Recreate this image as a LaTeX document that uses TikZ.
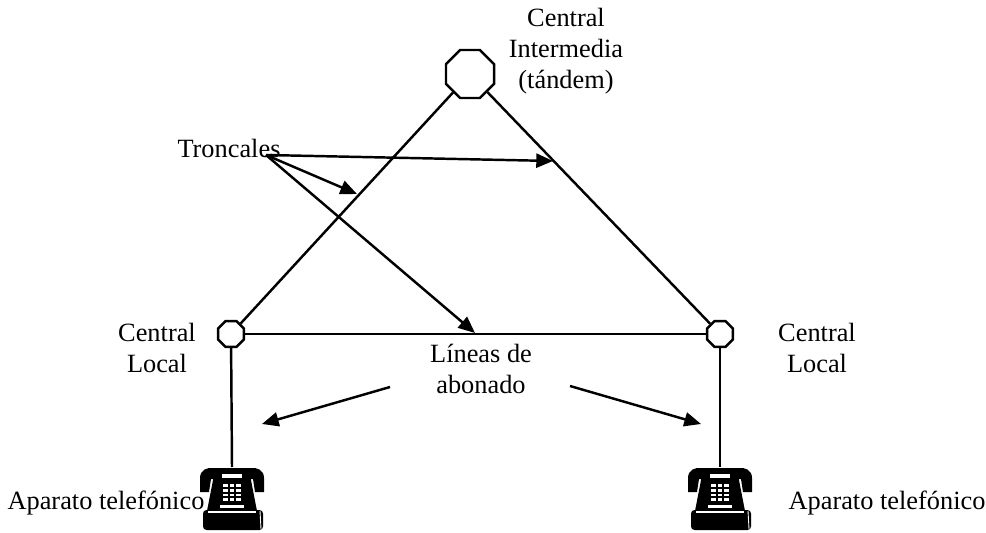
\documentclass[tikz,border=0pt]{standalone}
\usepackage{fontspec}
\setmainfont{Liberation Serif}
\usetikzlibrary{arrows.meta,shapes.geometric}

\tikzset{
  lbl/.style={align=center, inner sep=0pt, font=\fontsize{15}{17.6}\selectfont},
  central/.style={draw, regular polygon, regular polygon sides=8, line width=1.4pt, inner sep=0pt, fill=white},
  enlace/.style={line width=1.4pt},
  flecha/.style={line width=1.4pt, -{Triangle[length=9.5pt,width=8pt]}},
  telefono/.pic={
    % auricular
    \fill[black] (-32,11) .. controls (-32,3) and (-25,0) .. (-18,1) -- (18,1)
      .. controls (25,0) and (32,3) .. (32,11) -- (32,25) -- (23,25) -- (21,12)
      -- (-21,12) -- (-23,25) -- (-32,25) -- cycle;
    % cuerpo
    \fill[black] (-18,8) -- (18,8) -- (25,44) -- (-25,44) -- cycle;
    % base
    \fill[black, rounded corners=2pt] (-29,43) rectangle (31,63);
    \draw[white, line width=0.6pt] (-24,45) -- (24,45);
    \draw[white, line width=0.5pt] (28,44) -- (29,62);
    % pantalla y teclado
    \fill[white] (-10,7) rectangle (10,11);
    \foreach \i in {0,1,2}
      \foreach \j in {0,1,2,3}
        \fill[white] (-9+\i*6.5,17+\j*4.8) rectangle ++(4.5,2.8);
    \fill[white] (-12,37.5) rectangle (12,40.5);
  }
}

\begin{document}
\begin{tikzpicture}[x=0.02cm, y=-0.02cm]
\useasboundingbox (0,0) rectangle (986,533);

% centrales
\node[central, minimum size=1.04cm] (T) at (470,74) {};
\node[central, minimum size=0.56cm] (L) at (231,334) {};
\node[central, minimum size=0.56cm] (R) at (720,334) {};

% puntos de conexion de los aparatos
\coordinate (PL) at (232,467);
\coordinate (PR) at (720,467);

% troncales y lineas de abonado
\draw[enlace] (T) -- (L);
\draw[enlace] (T) -- (R);
\draw[enlace] (L) -- (R);
\draw[enlace] (L) -- (PL);
\draw[enlace] (R) -- (PR);

% textos
\node[lbl] (ci) at (566,51) {Central\\Intermedia\\(tándem)};
\node[lbl] (tr) at (229,148) {Troncales};
\node[lbl] (cl1) at (157,348) {Central\\Local};
\node[lbl] (cl2) at (817,348) {Central\\Local};
\node[lbl] (la) at (481,369) {Líneas de\\abonado};
\node[lbl] (ap1) at (106,503) {Aparato telefónico};
\node[lbl] (ap2) at (887,503) {Aparato telefónico};

% flechas
\coordinate (t0) at (266,155);
\coordinate (t1) at (553,161);
\coordinate (t2) at (357,194);
\coordinate (t3) at (475,333);
\draw[flecha] (t0) -- (t1);
\draw[flecha] (t0) -- (t2);
\draw[flecha] (t0) -- (t3);

\coordinate (a0) at (390,387);
\coordinate (a1) at (262,424);
\coordinate (b0) at (570,386);
\coordinate (b1) at (701,424);
\draw[flecha] (a0) -- (a1);
\draw[flecha] (b0) -- (b1);

% aparatos telefonicos
\pic at (PL) {telefono};
\pic at (PR) {telefono};
\end{tikzpicture}
\end{document}
